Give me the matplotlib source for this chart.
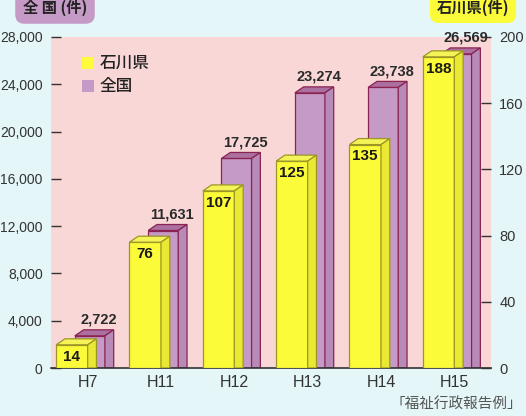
import matplotlib
matplotlib.use('Agg')
import matplotlib.pyplot as plt
from matplotlib.patches import Polygon
from matplotlib import font_manager as fm

categories = ['H7', 'H11', 'H12', 'H13', 'H14', 'H15']
ishikawa = [14, 76, 107, 125, 135, 188]
national = [2722, 11631, 17725, 23274, 23738, 26569]
left_ticks = [0, 4000, 8000, 12000, 16000, 20000, 24000, 28000]
right_ticks = [0, 40, 80, 120, 160, 200]

names = {f.name for f in fm.fontManager.ttflist}
NARROW = 'Liberation Sans Narrow' if 'Liberation Sans Narrow' in names else 'Liberation Sans'
LAT = 'Liberation Sans'
CJK = ['Noto Sans CJK JP', 'DejaVu Sans']

BG = '#e4f6f8'
PINK = '#f9d7d7'
Y_FRONT, Y_SIDE, Y_TOP, Y_EDGE = '#fbfb3a', '#e9e934', '#f4f458', '#9c9626'
P_FRONT, P_SIDE, P_TOP, P_EDGE = '#c69ac6', '#b88ab8', '#ab709f', '#8a2352'

fig = plt.figure(figsize=(5.26, 4.16), dpi=100, facecolor=BG)
ax = fig.add_axes([51 / 526, 48 / 416, 440 / 526, 331 / 416])
ax.set_facecolor(PINK)
ax.set_xlim(-0.5, 5.5)
ax.set_ylim(0, 28000)
ax2 = ax.twinx()
ax2.set_ylim(0, 200)
scale = 28000 / 200

dx, dy = 0.12, 508
yl, yw = -0.43, 0.43
pl, pw = -0.175, 0.41


def draw_bar(axis, x0, w, h, front, side, top, edge, z):
    axis.bar([x0], [h], width=w, align='edge', color=front, edgecolor=edge,
             linewidth=0.9, zorder=z)
    x1 = x0 + w
    axis.add_patch(Polygon([(x0, h), (x0 + dx, h + dy), (x1 + dx, h + dy), (x1, h)],
                           closed=True, facecolor=top, edgecolor=edge, linewidth=0.9, zorder=z))
    axis.add_patch(Polygon([(x1, 0), (x1, h), (x1 + dx, h + dy), (x1 + dx, 0)],
                           closed=True, facecolor=side, edgecolor=edge, linewidth=0.9, zorder=z))


for i, (yv, nv) in enumerate(zip(ishikawa, national)):
    draw_bar(ax, i + pl, pw, nv, P_FRONT, P_SIDE, P_TOP, P_EDGE, 2)
    ax.annotate(f'{nv:,}', (i + pl + pw / 2 + 0.125, nv), xytext=(0, 11.5),
                textcoords='offset points', ha='center', va='center',
                fontsize=10.5, fontweight='bold', family=NARROW, color='#2a2a2a', zorder=5)
for i, yv in enumerate(ishikawa):
    h = yv * scale
    draw_bar(ax, i + yl, yw, h, Y_FRONT, Y_SIDE, Y_TOP, Y_EDGE, 3)
    ax.annotate(f'{yv}', (i + yl + yw / 2, h), xytext=(0, -8.5),
                textcoords='offset points', ha='center', va='center',
                fontsize=11, fontweight='bold', family=NARROW, color='#1a1a1a', zorder=6)

for a in (ax, ax2):
    for s in ('left', 'right', 'top'):
        a.spines[s].set_visible(False)
ax.spines['bottom'].set_color('#333333')
ax.spines['bottom'].set_linewidth(1.2)
ax2.spines['bottom'].set_visible(False)

ax.set_yticks(left_ticks)
ax.set_yticklabels([f'{t:,}' for t in left_ticks], family=LAT, fontsize=10, color='#333333')
ax.tick_params(axis='y', direction='in', length=7, width=1, color='#333333', pad=6)
ax2.set_yticks(right_ticks)
ax2.set_yticklabels([str(t) for t in right_ticks], family=LAT, fontsize=10.5, color='#333333')
ax2.tick_params(axis='y', direction='in', length=7, width=1, color='#333333', pad=6)
ax.set_xticks(range(len(categories)))
ax.set_xticklabels(categories, family=LAT, fontsize=11.5, color='#333333')
ax.tick_params(axis='x', length=0, pad=5)

# legend
fig.patches.append(plt.Rectangle((82 / 526, 1 - 69 / 416), 12 / 526, 12 / 416,
                                 transform=fig.transFigure, facecolor=Y_FRONT, edgecolor='none'))
fig.patches.append(plt.Rectangle((82 / 526, 1 - 92 / 416), 12 / 526, 12 / 416,
                                 transform=fig.transFigure, facecolor=P_FRONT, edgecolor='none'))
fig.text(100 / 526, 1 - 63 / 416, '石川県', family=CJK, fontsize=12, fontweight='medium',
         va='center', color='#222222')
fig.text(100 / 526, 1 - 86 / 416, '全国', family=CJK, fontsize=12, fontweight='medium',
         va='center', color='#222222')

# axis unit boxes
fig.text(55 / 526, 1 - 8 / 416, '全 国 (件)', family=CJK, fontsize=11, fontweight='bold',
         ha='center', va='center', color='#222222',
         bbox=dict(boxstyle='round,pad=0.5,rounding_size=0.6', facecolor='#c69ac6', edgecolor='none'))
fig.text(473 / 526, 1 - 8 / 416, '石川県(件)', family=CJK, fontsize=11, fontweight='bold',
         ha='center', va='center', color='#222222',
         bbox=dict(boxstyle='round,pad=0.45,rounding_size=0.6', facecolor='#fbfb3a', edgecolor='none'))

fig.text(522 / 526, 11 / 416, '「福祉行政報告例」', family=CJK, fontsize=10.5,
         ha='right', va='center', color='#555555')

fig.savefig('out.png', dpi=100, facecolor=BG)
